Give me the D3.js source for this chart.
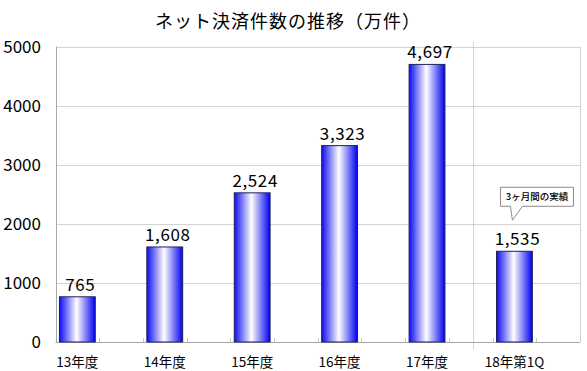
<!DOCTYPE html>
<html>
<head>
<meta charset="utf-8">
<script src="https://cdn.jsdelivr.net/npm/d3@7"></script>
<style>
  body { margin: 0; background: #fff; }
  svg { display: block; }
</style>
</head>
<body>
<div id="chart"></div>
<script>
// chart data
const categories = ["13年度", "14年度", "15年度", "16年度", "17年度", "18年第1Q"];
const values = [765, 1608, 2524, 3323, 4697, 1535];
const yTicks = [0, 1000, 2000, 3000, 4000, 5000];
const titleText = "ネット決済件数の推移（万件）";
const noteText = "3ヶ月間の実績";

const width = 587, height = 371;
const margin = {top: 46.5, right: 7, bottom: 29, left: 55.5};
const jp = "'Noto Sans CJK JP', 'Noto Sans', sans-serif";

const svg = d3.select("#chart").append("svg")
    .attr("width", width)
    .attr("height", height);

// gradient for the bars
const grad = svg.append("defs").append("linearGradient")
    .attr("id", "barGrad")
    .attr("x1", "0%").attr("x2", "100%").attr("y1", "0%").attr("y2", "0%");
grad.append("stop").attr("offset", "0%").attr("stop-color", "#0c0cf2");
grad.append("stop").attr("offset", "48%").attr("stop-color", "#ffffff");
grad.append("stop").attr("offset", "100%").attr("stop-color", "#0000f0");

// each category takes two slots, the second one stays empty
const slots = categories.flatMap(c => [c, c + "_blank"]);

const x = d3.scaleBand()
    .domain(slots)
    .range([margin.left, width - margin.right])
    .paddingInner(0.18)
    .paddingOuter(0.09);

const y = d3.scaleLinear()
    .domain([0, 5000])
    .range([height - margin.bottom, margin.top]);

const step = x.step();
const x0 = margin.left, x1 = width - margin.right;

// gridlines
svg.append("g")
    .selectAll("line")
    .data(yTicks.filter(d => d > 0))
    .join("line")
    .attr("x1", x0).attr("x2", x1)
    .attr("y1", d => Math.round(y(d)) + 0.5)
    .attr("y2", d => Math.round(y(d)) + 0.5)
    .attr("stroke", "#d4d4d4");

// right frame
svg.append("line")
    .attr("x1", Math.round(x1) + 0.5).attr("x2", Math.round(x1) + 0.5)
    .attr("y1", y(5000)).attr("y2", y(0))
    .attr("stroke", "#d4d4d4");

// small ticks on the category axis
svg.append("g")
    .selectAll("line")
    .data(d3.range(slots.length + 1))
    .join("line")
    .attr("x1", i => Math.round(x0 + i * step) + 0.5)
    .attr("x2", i => Math.round(x0 + i * step) + 0.5)
    .attr("y1", y(0) - 4).attr("y2", y(0))
    .attr("stroke", "#c8c8c8");

// separator before the quarter figure
const sepX = Math.round((x(categories[4]) + x(categories[5])) / 2 + x.bandwidth() / 2 + 2) + 0.5;
svg.append("line")
    .attr("x1", sepX).attr("x2", sepX)
    .attr("y1", y(5000) - 4).attr("y2", y(0) + 8)
    .attr("stroke", "#aaaaaa")
    .attr("stroke-dasharray", "1,1");

// axes lines
svg.append("line")
    .attr("x1", x0).attr("x2", x1)
    .attr("y1", Math.round(y(0)) + 0.5).attr("y2", Math.round(y(0)) + 0.5)
    .attr("stroke", "#a8a8a8");
svg.append("line")
    .attr("x1", Math.round(x0) + 0.5).attr("x2", Math.round(x0) + 0.5)
    .attr("y1", y(5000)).attr("y2", y(0))
    .attr("stroke", "#a8a8a8");

// y tick labels
svg.append("g")
    .selectAll("text")
    .data(yTicks)
    .join("text")
    .attr("x", 41)
    .attr("y", d => y(d))
    .attr("dy", "0.36em")
    .attr("text-anchor", "end")
    .attr("font-family", jp)
    .attr("font-size", 17)
    .attr("fill", "#000")
    .text(d => d);

// bars
svg.append("g")
    .selectAll("rect")
    .data(values)
    .join("rect")
    .attr("x", (d, i) => x(categories[i]))
    .attr("y", d => y(d))
    .attr("width", x.bandwidth())
    .attr("height", d => y(0) - y(d))
    .attr("fill", "url(#barGrad)")
    .attr("stroke", "#20205a")
    .attr("stroke-width", 1);

// value labels
const fmt = d3.format(",");
svg.append("g")
    .selectAll("text")
    .data(values)
    .join("text")
    .attr("x", (d, i) => x(categories[i]) + x.bandwidth() / 2 + 3)
    .attr("y", d => y(d) - 6)
    .attr("text-anchor", "middle")
    .attr("font-family", jp)
    .attr("font-size", 17)
    .attr("letter-spacing", 0.6)
    .attr("fill", "#000")
    .text(d => fmt(d));

// category labels
svg.append("g")
    .selectAll("text")
    .data(categories)
    .join("text")
    .attr("x", d => x(d) + x.bandwidth() / 2)
    .attr("y", 367)
    .attr("text-anchor", "middle")
    .attr("font-family", jp)
    .attr("font-size", 13.5)
    .attr("fill", "#000")
    .text(d => d);

// title
svg.append("text")
    .attr("x", 288)
    .attr("y", 28)
    .attr("text-anchor", "middle")
    .attr("font-family", jp)
    .attr("font-size", 18)
    .attr("letter-spacing", 1)
    .attr("fill", "#000")
    .text(titleText);

// callout over the last bar
const lastX = x(categories[5]) + x.bandwidth() / 2;
const lastY = y(values[5]);
const box = {x: lastX - 14, y: lastY - 64, w: 73, h: 19};
const tipX = lastX - 2, tipY = lastY - 31;
svg.append("path")
    .attr("d", `M${box.x},${box.y} H${box.x + box.w} V${box.y + box.h} H${box.x + 22}` +
        ` L${tipX},${tipY} L${box.x + 10},${box.y + box.h} H${box.x} Z`)
    .attr("fill", "#fff")
    .attr("stroke", "#8c8c8c");
svg.append("text")
    .attr("x", box.x + box.w / 2)
    .attr("y", box.y + box.h / 2)
    .attr("dy", "0.36em")
    .attr("text-anchor", "middle")
    .attr("font-family", jp)
    .attr("font-size", 9.5)
    .attr("font-weight", 500)
    .attr("fill", "#000")
    .text(noteText);
</script>
</body>
</html>
